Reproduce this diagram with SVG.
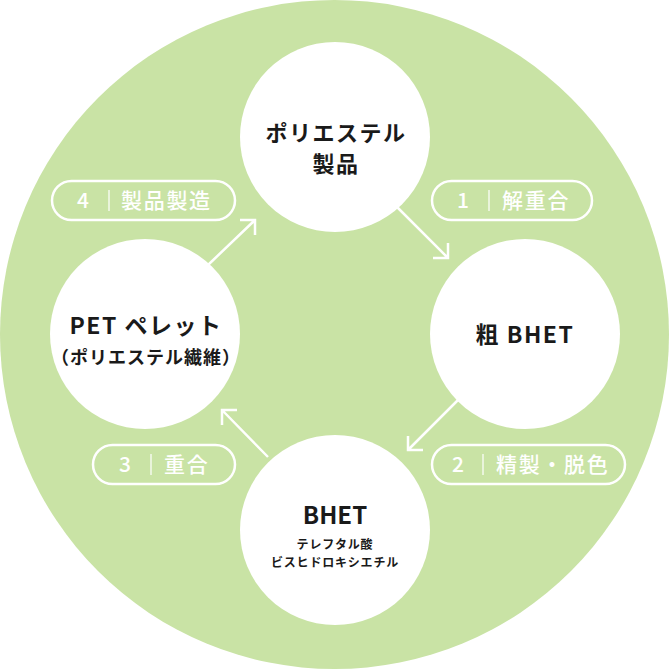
<svg xmlns="http://www.w3.org/2000/svg" width="669" height="669" viewBox="0 0 669 669">
<style>
.node{fill:#fff}
.t{font-family:"Noto Sans CJK JP","Noto Sans",sans-serif;font-weight:bold;fill:#1a1a1a;text-anchor:middle}
.pill{fill:none;stroke:#fff;stroke-width:2.5}
.pt{font-family:"Noto Sans CJK JP","Noto Sans",sans-serif;font-weight:500;fill:#fff;font-size:21px;letter-spacing:1.7px}
.div{stroke:#fff;stroke-width:1.2}
.con{fill:none;stroke:#fff;stroke-width:2.5}
</style>
<circle cx="334.5" cy="334.5" r="334.5" fill="#c9e3a5"/>
<g id="connectors">
<path class="con" d="M397 207 L448 258 M448 243 L448 258 L433 258"/>
<path class="con" d="M458 400 L408 450 M408 436 L408 450 L423 450"/>
<path class="con" d="M268 457 L222 410 M237 410 L222 410 L222 425"/>
<path class="con" d="M208 265 L255 220 M240 220 L255 220 L255 235"/>
</g>
<g id="node-top">
<circle class="node" cx="335" cy="137" r="95"/>
<text class="t" x="336" y="141" font-size="22" letter-spacing="1.5">ポリエステル</text>
<text class="t" x="336" y="172" font-size="22" letter-spacing="1.5">製品</text>
</g>
<g id="node-right">
<circle class="node" cx="525" cy="334" r="95"/>
<text class="t" x="525" y="343" font-size="23" letter-spacing="1.5">粗 BHET</text>
</g>
<g id="node-bottom">
<circle class="node" cx="335" cy="530" r="95"/>
<text class="t" x="335" y="524" font-size="24">BHET</text>
<text class="t" x="335" y="549" font-size="12" letter-spacing="0.8">テレフタル酸</text>
<text class="t" x="335" y="567" font-size="12" letter-spacing="0.8">ビスヒドロキシエチル</text>
</g>
<g id="node-left">
<circle class="node" cx="145" cy="334" r="95"/>
<text class="t" x="146" y="334" font-size="23" letter-spacing="1.5">PET ペレット</text>
<text class="t" x="146" y="364" font-size="18" letter-spacing="1">（ポリエステル繊維）</text>
</g>
<g id="label-1">
<rect class="pill" x="432" y="181" width="160" height="39" rx="19.5"/>
<text class="pt" x="457" y="208">1</text>
<line class="div" x1="489" y1="190" x2="489" y2="211"/>
<text class="pt" x="502" y="208">解重合</text>
</g>
<g id="label-2">
<rect class="pill" x="432" y="445" width="193" height="39" rx="19.5"/>
<text class="pt" x="452" y="472">2</text>
<line class="div" x1="483" y1="454" x2="483" y2="475"/>
<text class="pt" x="496" y="472">精製・脱色</text>
</g>
<g id="label-3">
<rect class="pill" x="93" y="445" width="142" height="39" rx="19.5"/>
<text class="pt" x="119" y="472">3</text>
<line class="div" x1="151" y1="454" x2="151" y2="475"/>
<text class="pt" x="164" y="472">重合</text>
</g>
<g id="label-4">
<rect class="pill" x="52" y="181" width="183" height="39" rx="19.5"/>
<text class="pt" x="77" y="208">4</text>
<line class="div" x1="109" y1="190" x2="109" y2="211"/>
<text class="pt" x="121" y="208">製品製造</text>
</g>
</svg>
